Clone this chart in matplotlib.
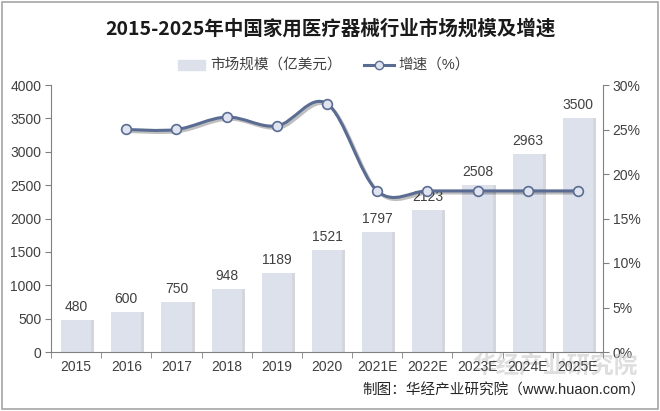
import numpy as np
import matplotlib.pyplot as plt
from matplotlib.path import Path
from matplotlib.patches import PathPatch, Rectangle
import matplotlib.patheffects as pe

plt.rcParams['font.family'] = ['Liberation Sans', 'Noto Sans CJK SC', 'DejaVu Sans']

years = ['2015', '2016', '2017', '2018', '2019', '2020', '2021E', '2022E', '2023E', '2024E', '2025E']
market = [480, 600, 750, 948, 1189, 1521, 1797, 2123, 2508, 2963, 3500]
growth = [None, 25.0, 25.0, 26.4, 25.4, 27.9, 18.1, 18.1, 18.1, 18.1, 18.1]

bar_color = '#dde1eb'
line_color = '#5a6c92'
text_color = '#404040'

fig = plt.figure(figsize=(6.6, 4.11), dpi=100)
ax = fig.add_axes([51 / 660, 1 - 352 / 411, (603 - 51) / 660, (352 - 85) / 411])
ax2 = ax.twinx()
ax.set_zorder(ax2.get_zorder() + 1)
ax.patch.set_visible(False)

x = np.arange(len(years))
# bar shadows
ax.bar(x + 0.06, market, width=0.6, color='#b8bcc6', alpha=0.6, zorder=1)
ax.bar(x, market, width=0.6, color=bar_color, zorder=2)
for xi, v in zip(x, market):
    ax.text(xi, v + 90, str(v), ha='center', va='bottom', fontsize=10, color=text_color, zorder=5)

ax.set_xlim(-0.5, len(years) - 0.5)
ax.set_ylim(0, 4000)
ax.set_yticks(range(0, 4001, 500))
ax.set_xticks(x)
ax.set_xticklabels(years)
ax.set_xticks(np.arange(-0.5, len(years), 1), minor=True)
ax.tick_params(axis='x', which='major', length=0, labelsize=10, labelcolor=text_color, pad=6)
ax.tick_params(axis='x', which='minor', length=4, color='#808080')
ax.tick_params(axis='y', length=4, color='#808080', labelsize=10, labelcolor=text_color, pad=3)
for s in ['top', 'right']:
    ax.spines[s].set_visible(False)
for s in ['left', 'bottom']:
    ax.spines[s].set_color('#808080')

# growth line drawn on the bar axes, mapped to right scale
ax2.set_ylim(0, 30)
ax2.set_yticks(range(0, 31, 5))
ax2.set_yticklabels([f'{v}%' for v in range(0, 31, 5)])
ax2.tick_params(axis='y', length=4, color='#808080', labelsize=10, labelcolor=text_color, pad=3)
for s in ['top', 'left', 'bottom']:
    ax2.spines[s].set_visible(False)
ax2.spines['right'].set_color('#808080')

gx = np.array([xi for xi, g in zip(x, growth) if g is not None], dtype=float)
gy = np.array([g for g in growth if g is not None], dtype=float)
scale = 4000 / 30
py = gy * scale

# smooth curve with bezier segments (catmull-rom style control points)
verts = [(gx[0], py[0])]
codes = [Path.MOVETO]
t = 0.17
for i in range(len(gx) - 1):
    p0 = (gx[i - 1], py[i - 1]) if i > 0 else (gx[i], py[i])
    p1 = (gx[i], py[i])
    p2 = (gx[i + 1], py[i + 1])
    p3 = (gx[i + 2], py[i + 2]) if i + 2 < len(gx) else p2
    c1 = (p1[0] + (p2[0] - p0[0]) * t, p1[1] + (p2[1] - p0[1]) * t)
    c2 = (p2[0] - (p3[0] - p1[0]) * t, p2[1] - (p3[1] - p1[1]) * t)
    verts += [c1, c2, p2]
    codes += [Path.CURVE4] * 3
curve = PathPatch(Path(verts, codes), fill=False, edgecolor=line_color, lw=2.2, zorder=6,
                  capstyle='round',
                  path_effects=[pe.SimpleLineShadow(offset=(1.5, -1.5), alpha=0.25), pe.Normal()])
ax.add_patch(curve)
ax.plot(gx, py, linestyle='none', marker='o', markersize=7, markerfacecolor='#dfe4f0',
        markeredgecolor=line_color, markeredgewidth=1.2, zorder=7)

# legend
fig.add_artist(Rectangle((178 / 660, 1 - 70 / 411), 27 / 660, 10 / 411, color=bar_color,
                         transform=fig.transFigure))
fig.text(210 / 660, 1 - 65 / 411, '市场规模（亿美元）', fontsize=10.5, color=text_color,
         ha='left', va='center')
fig.add_artist(plt.Line2D([364 / 660, 394 / 660], [1 - 65 / 411] * 2, color=line_color, lw=2.2,
                          transform=fig.transFigure))
fig.add_artist(plt.Line2D([379 / 660], [1 - 65 / 411], marker='o', markersize=6,
                          markerfacecolor='#dfe4f0', markeredgecolor=line_color,
                          transform=fig.transFigure))
fig.text(398 / 660, 1 - 65 / 411, '增速（%）', fontsize=10.5, color=text_color,
         ha='left', va='center')

fig.text(0.5, 1 - 29 / 411, '2015-2025年中国家用医疗器械行业市场规模及增速', fontsize=14,
         fontweight='bold', color='#1a1a1a', ha='center', va='center',
         family=['Noto Sans CJK SC', 'DejaVu Sans'])

# watermark and source
fig.text(555 / 660, 1 - 366 / 411, '华经产业研究院', fontsize=17, color='#c8c8c8', alpha=0.6,
         ha='center', va='center', fontweight='bold', family=['Noto Sans CJK SC'], zorder=0)
fig.text(646 / 660, 1 - 390 / 411, '制图：华经产业研究院（www.huaon.com）', fontsize=10.5,
         color='#262626', ha='right', va='center')

fig.add_artist(Rectangle((2 / 660, 2 / 411), 656 / 660, 407 / 411, fill=False,
                         edgecolor='#a6a6a6', lw=1.2, transform=fig.transFigure))

fig.savefig('out.png', dpi=100)
